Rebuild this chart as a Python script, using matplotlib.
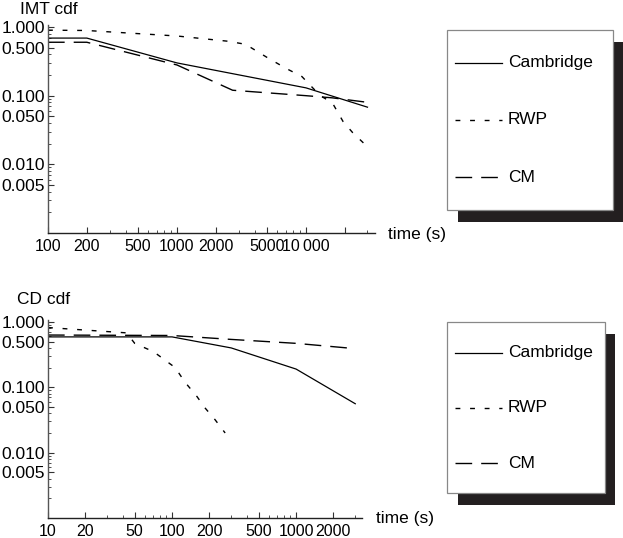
import matplotlib
matplotlib.use("Agg")
import matplotlib.pyplot as plt
from matplotlib.ticker import FixedLocator, NullFormatter
from matplotlib.lines import Line2D
from matplotlib.patches import Rectangle

plt.rcParams["font.family"] = ["Liberation Sans", "DejaVu Sans"]

# ---- data ----
series_names = ["Cambridge", "RWP", "CM"]

# IMT cdf (top panel)
imt_cam_t = [100, 200, 1000, 10000, 30000]
imt_cam_p = [0.69, 0.69, 0.30, 0.13, 0.068]
imt_rwp_t = [100, 200, 1000, 2500, 3400, 5000, 7000, 9300, 12900, 16000, 19400, 23000, 30000]
imt_rwp_p = [0.90, 0.89, 0.74, 0.62, 0.56, 0.36, 0.25, 0.19, 0.10, 0.079, 0.042, 0.029, 0.018]
imt_cm_t = [100, 200, 1000, 2700, 10000, 16000, 30000]
imt_cm_p = [0.60, 0.60, 0.28, 0.12, 0.10, 0.093, 0.080]

# CD cdf (bottom panel)
cd_cam_t = [10, 100, 300, 1000, 3000]
cd_cam_p = [0.59, 0.59, 0.40, 0.19, 0.056]
cd_rwp_t = [10, 20, 43, 50, 71, 106, 127, 159, 185, 222, 268]
cd_rwp_p = [0.82, 0.75, 0.68, 0.47, 0.35, 0.20, 0.12, 0.072, 0.048, 0.032, 0.020]
cd_cm_t = [10, 100, 300, 1000, 3000]
cd_cm_p = [0.63, 0.62, 0.54, 0.47, 0.39]

# ticks
imt_xticks = [100, 200, 500, 1000, 2000, 5000, 10000, 20000]
imt_xlabels = ["100", "200", "500", "1000", "2000", "5000", "10\u2009000", ""]
cd_xticks = [10, 20, 50, 100, 200, 500, 1000, 2000]
cd_xlabels = ["10", "20", "50", "100", "200", "500", "1000", "2000"]
yticks = [1.0, 0.5, 0.1, 0.05, 0.01, 0.005]
ylabels = ["1.000", "0.500", "0.100", "0.050", "0.010", "0.005"]

FS = 12.5
XFS = 11.5
styles = {
    "Cambridge": dict(color="black", lw=0.9, linestyle="-"),
    "RWP": dict(color="black", lw=1.0, linestyle=(0, (3.5, 7.0))),
    "CM": dict(color="black", lw=1.0, linestyle=(0, (12.0, 6.5))),
}

W, H = 623, 538
fig = plt.figure(figsize=(W / 100, H / 100), dpi=100)


def minor_list(lo_exp, hi_exp):
    out = []
    for e in range(lo_exp, hi_exp + 1):
        for m in range(1, 10):
            out.append(m * 10.0 ** e)
    return out


def setup_axes(ax, xlim, xticks, xlabels):
    ax.set_xscale("log")
    ax.set_yscale("log")
    ax.set_xlim(*xlim)
    ax.set_ylim(0.001, 1.07)
    for s in ["top", "right"]:
        ax.spines[s].set_visible(False)
    ax.spines["left"].set_color("#555555")
    ax.spines["bottom"].set_color("#222222")
    for s in ["left", "bottom"]:
        ax.spines[s].set_linewidth(1.0)
    ax.xaxis.set_major_locator(FixedLocator(xticks))
    ax.set_xticklabels(xlabels)
    ax.xaxis.set_minor_locator(FixedLocator([v for v in minor_list(0, 5) if v not in xticks]))
    ax.yaxis.set_major_locator(FixedLocator(yticks))
    ax.set_yticklabels(ylabels)
    ax.yaxis.set_minor_locator(FixedLocator([v for v in minor_list(-3, 0) if v not in yticks]))
    ax.xaxis.set_minor_formatter(NullFormatter())
    ax.yaxis.set_minor_formatter(NullFormatter())
    ax.tick_params(which="major", direction="in", length=4, width=0.8, color="#333333")
    ax.tick_params(axis="x", which="major", labelsize=XFS, pad=4)
    ax.tick_params(axis="y", which="major", labelsize=FS, pad=2)
    ax.tick_params(which="minor", direction="in", length=2, width=0.6, color="#333333")
    ax.patch.set_visible(False)


ax1 = fig.add_axes([48 / W, 1 - 233 / H, (375 - 48) / W, (233 - 25) / H])
setup_axes(ax1, (100, 34300), imt_xticks, imt_xlabels)
ax1.plot(imt_cam_t, imt_cam_p, **styles["Cambridge"])
ax1.plot(imt_rwp_t, imt_rwp_p, **styles["RWP"])
ax1.plot(imt_cm_t, imt_cm_p, **styles["CM"])

ax2 = fig.add_axes([48 / W, 1 - 518 / H, (362 - 48) / W, (518 - 320) / H])
setup_axes(ax2, (10, 3400), cd_xticks, cd_xlabels)
ax2.plot(cd_cam_t, cd_cam_p, **styles["Cambridge"])
ax2.plot(cd_rwp_t, cd_rwp_p, **styles["RWP"])
ax2.plot(cd_cm_t, cd_cm_p, **styles["CM"])

fig.text(20 / W, 1 - 9 / H, "IMT cdf", fontsize=FS, va="center", ha="left")
fig.text(388 / W, 1 - 235 / H, "time (s)", fontsize=FS, va="center", ha="left")
fig.text(17 / W, 1 - 299 / H, "CD cdf", fontsize=FS, va="center", ha="left")
fig.text(376 / W, 1 - 518 / H, "time (s)", fontsize=FS, va="center", ha="left")

# legend boxes with a solid drop shadow, drawn in pixel space
ov = fig.add_axes([0, 0, 1, 1])
ov.set_xlim(0, W)
ov.set_ylim(H, 0)
ov.axis("off")
ov.patch.set_visible(False)


def legend_box(x0, y0, x1, y1, sx1, sy1, rows):
    ov.add_patch(Rectangle((x0 + 11, y0 + 12), sx1 - x0 - 11, sy1 - y0 - 12,
                           facecolor="#231f20", edgecolor="none", zorder=1))
    ov.add_patch(Rectangle((x0, y0), x1 - x0, y1 - y0, facecolor="white",
                           edgecolor="#888888", lw=0.9, zorder=2))
    for name, yy in zip(series_names, rows):
        ov.add_line(Line2D([455, 502], [yy, yy], zorder=3, **styles[name]))
        ov.text(508, yy, name, fontsize=FS, va="center", ha="left", zorder=3)


legend_box(447, 30, 613, 210, 623, 222, [63, 120, 177])
legend_box(447, 322, 605, 493, 615, 505, [353, 408, 463])

fig.savefig("out.png", dpi=100)
